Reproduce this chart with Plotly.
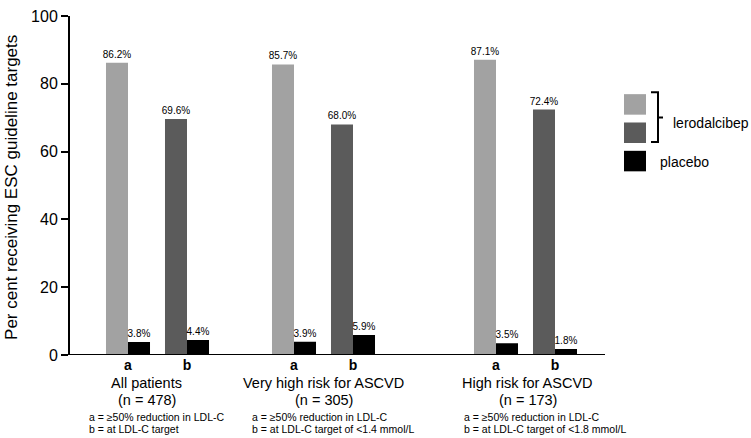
import plotly.graph_objects as go

# ---------------- data ----------------
groups = ["All patients", "Very high risk for ASCVD", "High risk for ASCVD"]
group_n = [478, 305, 173]
pair_labels = ["a", "b"]
lerodalcibep_a = [86.2, 85.7, 87.1]
lerodalcibep_b = [69.6, 68.0, 72.4]
placebo_a = [3.8, 3.9, 3.5]
placebo_b = [4.4, 5.9, 1.8]
foot_a = ["a = \u226550% reduction in LDL-C"] * 3
foot_b = ["b = at LDL-C target",
          "b = at LDL-C target of <1.4 mmol/L",
          "b = at LDL-C target of <1.8 mmol/L"]
y_ticks = [0, 20, 40, 60, 80, 100]
y_title = "Per cent receiving ESC guideline targets"
legend_names = ["lerodalcibep", "placebo"]

# ---------------- style ----------------
W, H = 751, 438
L, T, B, R = 69, 8, 83, 151
PW, PH = W - L - R, H - T - B
LIGHT, DARK, BLACK = "#a2a2a2", "#5b5b5b", "#000000"
SANS = "Liberation Sans, Arial, sans-serif"


def px(xp):
    return (xp - L) / PW


def py(yp):
    return (H - B - yp) / PH


domains = [(98.5, 216.5), (264.5, 382.5), (466.5, 584.5)]
label_shift = [-11, 0, 2]
foot_x = [87, 250, 462]

fig = go.Figure()
for g in range(3):
    xa = "x" if g == 0 else f"x{g + 1}"
    fig.add_trace(go.Bar(
        x=pair_labels, y=[lerodalcibep_a[g], lerodalcibep_b[g]],
        marker=dict(color=[LIGHT, DARK], line=dict(width=0)),
        name=legend_names[0], showlegend=False,
        texttemplate="%{y:.1f}%", textposition="outside",
        textfont=dict(family=SANS, size=10, color="black"),
        constraintext="none", cliponaxis=False,
        xaxis=xa, yaxis="y"))
    fig.add_trace(go.Bar(
        x=pair_labels, y=[placebo_a[g], placebo_b[g]],
        marker=dict(color=BLACK, line=dict(width=0)),
        name=legend_names[1], showlegend=False,
        texttemplate="%{y:.1f}%", textposition="outside",
        textfont=dict(family=SANS, size=10, color="black"),
        constraintext="none", cliponaxis=False,
        xaxis=xa, yaxis="y"))

layout = dict(
    width=W, height=H,
    margin=dict(l=L, r=R, t=T, b=B),
    paper_bgcolor="white", plot_bgcolor="white",
    barmode="group", bargap=0.254, bargroupgap=0,
    showlegend=False,
    yaxis=dict(range=[0, 100], tickvals=y_ticks, showgrid=False, zeroline=False,
               showline=True, linecolor="black", linewidth=2,
               ticks="outside", ticklen=7, tickwidth=2, tickcolor="black",
               tickfont=dict(family=SANS, size=16, color="black"),
               ticklabeloverflow="allow",
               anchor="free", position=0),
)
for g in range(3):
    key = "xaxis" if g == 0 else f"xaxis{g + 1}"
    d0, d1 = domains[g]
    layout[key] = dict(domain=[px(d0), px(d1)], type="category",
                       categoryarray=pair_labels, range=[-0.5, 1.5],
                       anchor="y", showgrid=False, zeroline=False, showline=False,
                       ticks="", tickvals=pair_labels,
                       ticktext=[f"<b>{p}</b>" for p in pair_labels],
                       tickfont=dict(family=SANS, size=14, color="black"))
fig.update_layout(**layout)

shapes = []
# baseline
shapes.append(dict(type="line", xref="paper", yref="y", x0=px(63), x1=px(605),
                   y0=0, y1=0, line=dict(color="black", width=2)))
# legend squares
for (y0, y1), c in zip([(88, 109), (117, 138), (146, 167)], [LIGHT, DARK, BLACK]):
    shapes.append(dict(type="rect", xref="paper", yref="paper",
                       x0=px(624), x1=px(646), y0=py(y1), y1=py(y0),
                       fillcolor=c, line=dict(width=0)))
# bracket
bx = 658
path = (f"M {px(651)},{py(86)} L {px(bx)},{py(86)} L {px(bx)},{py(137)} L {px(651)},{py(137)} "
        f"M {px(bx)},{py(112)} L {px(663)},{py(112)}")
shapes.append(dict(type="path", xref="paper", yref="paper", path=path,
                   line=dict(color="black", width=2)))
fig.update_layout(shapes=shapes)

ann = []
ann.append(dict(text=y_title, xref="paper", yref="paper", x=px(12), y=py(184),
                textangle=-90, showarrow=False, xanchor="center", yanchor="middle",
                font=dict(family=SANS, size=17, color="black")))
ann.append(dict(text=legend_names[0], xref="paper", yref="paper", x=px(671), y=py(118),
                showarrow=False, xanchor="left", yanchor="middle",
                font=dict(family=SANS, size=14, color="black")))
ann.append(dict(text=legend_names[1], xref="paper", yref="paper", x=px(658), y=py(157),
                showarrow=False, xanchor="left", yanchor="middle",
                font=dict(family=SANS, size=14, color="black")))
for g in range(3):
    xr = "x" if g == 0 else f"x{g + 1}"
    ann.append(dict(text=groups[g], xref=xr, yref="paper", x=0.5, y=py(384),
                    xshift=label_shift[g], showarrow=False, xanchor="center", yanchor="middle",
                    font=dict(family=SANS, size=14.5, color="black")))
    ann.append(dict(text=f"(n = {group_n[g]})", xref=xr, yref="paper", x=0.5, y=py(401),
                    xshift=label_shift[g], showarrow=False, xanchor="center", yanchor="middle",
                    font=dict(family=SANS, size=14.5, color="black")))
    ann.append(dict(text=foot_a[g], xref="paper", yref="paper", x=px(foot_x[g]), y=py(418),
                    showarrow=False, xanchor="left", yanchor="middle",
                    font=dict(family=SANS, size=10.5, color="black")))
    ann.append(dict(text=foot_b[g], xref="paper", yref="paper", x=px(foot_x[g]), y=py(431),
                    showarrow=False, xanchor="left", yanchor="middle",
                    font=dict(family=SANS, size=10.5, color="black")))
fig.update_layout(annotations=ann)

fig.write_html("out.html", config={"displayModeBar": False},
               post_script="document.body.style.margin='0px';document.body.style.overflow='hidden';")
